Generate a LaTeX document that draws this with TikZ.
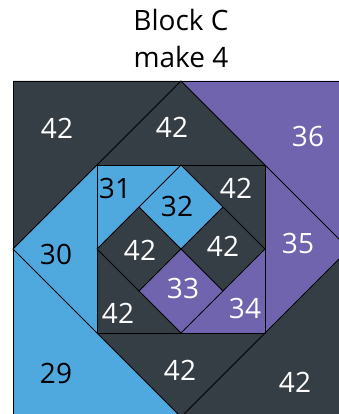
\documentclass[tikz,border=0pt]{standalone}
\usepackage{fontspec}
\setmainfont{Open Sans}
\definecolor{quiltdark}{RGB}{53,62,68}
\definecolor{quiltblue}{RGB}{79,168,222}
\definecolor{quiltpurple}{RGB}{112,100,174}
\begin{document}
\begin{tikzpicture}[x=1pt, y=-1pt,
		seam/.style={draw=black, line width=0.8pt, line join=round},
		num/.style={font=\fontsize{28}{34}\selectfont, text=white, inner sep=0pt},
		numblue/.style={num, text=black}]
		\useasboundingbox (0,0) rectangle (339,414);
		\clip (0,0) rectangle (339,414);

		% Title
		\node[font=\fontsize{28}{34}\selectfont, anchor=base] (title) at (181,31) {Block C};
		\node[font=\fontsize{28}{34}\selectfont, anchor=base] (count) at (181,68) {make 4};

		% Outer corners
		\fill[quiltdark] (13,81) -- (181,81) -- (13,249) -- cycle;
		\fill[quiltpurple] (181,81) -- (349,81) -- (349,249) -- cycle;
		\fill[quiltblue] (13,249) -- (13,417) -- (181,417) -- cycle;
		\fill[quiltdark] (349,249) -- (349,417) -- (181,417) -- cycle;

		% Outer diamond, outside the inner square
		\fill[quiltdark] (181,81) -- (265,165) -- (97,165) -- cycle;
		\fill[quiltblue] (13,249) -- (97,165) -- (97,333) -- cycle;
		\fill[quiltpurple] (349,249) -- (265,165) -- (265,333) -- cycle;
		\fill[quiltdark] (181,417) -- (97,333) -- (265,333) -- cycle;

		% Inner square corners
		\fill[quiltblue] (97,165) -- (181,165) -- (97,249) -- cycle;
		\fill[quiltdark] (181,165) -- (265,165) -- (265,249) -- cycle;
		\fill[quiltpurple] (265,249) -- (265,333) -- (181,333) -- cycle;
		\fill[quiltdark] (97,249) -- (97,333) -- (181,333) -- cycle;

		% Four small diamonds
		\fill[quiltblue] (181,165) -- (223,207) -- (181,249) -- (139,207) -- cycle;
		\fill[quiltdark] (223,207) -- (265,249) -- (223,291) -- (181,249) -- cycle;
		\fill[quiltpurple] (181,249) -- (223,291) -- (181,333) -- (139,291) -- cycle;
		\fill[quiltdark] (139,207) -- (181,249) -- (139,291) -- (97,249) -- cycle;

		% Seams
		\draw[seam] (13,81) rectangle (349,417);
		\draw[seam] (181,81) -- (349,249) -- (181,417) -- (13,249) -- cycle;
		\draw[seam] (97,165) rectangle (265,333);
		\draw[seam] (181,165) -- (265,249) -- (181,333) -- (97,249) -- cycle;
		\draw[seam] (139,207) -- (223,291);
		\draw[seam] (223,207) -- (139,291);

		% Patch numbers
		\node[num] (p42a) at (57,128) {42};
		\node[num] (p42b) at (172,127) {42};
		\node[num] (p36) at (308,136) {36};
		\node[numblue] (p31) at (115,188) {31};
		\node[numblue] (p32) at (177,206) {32};
		\node[num] (p42c) at (236,188) {42};
		\node[num] (p42d) at (140,250) {42};
		\node[num] (p42e) at (223,246) {42};
		\node[numblue] (p30) at (56,254) {30};
		\node[num] (p35) at (298,243) {35};
		\node[num] (p33) at (183,288) {33};
		\node[num] (p34) at (245,308) {34};
		\node[num] (p42f) at (118,313) {42};
		\node[numblue] (p29) at (56,373) {29};
		\node[num] (p42g) at (180,370) {42};
		\node[num] (p42h) at (295,382) {42};
	\end{tikzpicture}
\end{document}
